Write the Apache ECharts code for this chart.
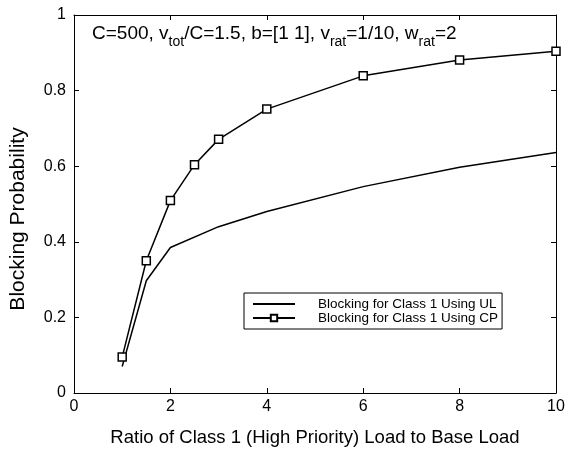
<!DOCTYPE html>
<html>
<head>
<meta charset="utf-8">
<script src="https://cdn.jsdelivr.net/npm/echarts@6/dist/echarts.min.js"></script>
<style>
  html, body { margin: 0; padding: 0; background: #fff; }
  #chart { width: 569px; height: 452px; }
</style>
</head>
<body>
<div id="chart"></div>
<script>
// load ratio (x) and blocking probabilities
const ulX = [1, 1.5, 2, 3, 4, 6, 8, 10];
const ulY = [0.07, 0.297, 0.385, 0.44, 0.48, 0.546, 0.597, 0.636];
const cpX = [1, 1.5, 2, 2.5, 3, 4, 6, 8, 10];
const cpY = [0.095, 0.35, 0.509, 0.604, 0.671, 0.751, 0.839, 0.881, 0.904];
const seriesNames = ['Blocking for Class 1 Using UL', 'Blocking for Class 1 Using CP'];

const font = "'Liberation Sans', Arial, sans-serif";
const chart = echarts.init(document.getElementById('chart'));

const zip = (xs, ys) => xs.map((x, i) => [x, ys[i]]);

const baseX = {
    type: 'value', min: 0, max: 10, interval: 2,
    axisLine: { show: true, onZero: false, lineStyle: { color: '#000', width: 1 } },
    axisTick: { show: true, inside: true, length: 5, lineStyle: { color: '#000' } },
    splitLine: { show: false }
};
const baseY = {
    type: 'value', min: 0, max: 1, interval: 0.2,
    axisLine: { show: true, onZero: false, lineStyle: { color: '#000', width: 1 } },
    axisTick: { show: true, inside: true, length: 5, lineStyle: { color: '#000' } },
    splitLine: { show: false }
};

chart.setOption({
    animation: false,
    backgroundColor: '#fff',
    grid: { left: 73, right: 13, top: 15, bottom: 59 },
    xAxis: [
        Object.assign({}, baseX, {
            position: 'bottom',
            name: 'Ratio of Class 1 (High Priority) Load to Base Load',
            nameLocation: 'middle',
            nameGap: 35,
            nameTextStyle: { color: '#000', fontSize: 18.5, fontFamily: font },
            axisLabel: { color: '#000', fontSize: 16, fontFamily: font, margin: 6 }
        }),
        Object.assign({}, baseX, { position: 'top', axisLabel: { show: false } })
    ],
    yAxis: [
        Object.assign({}, baseY, {
            position: 'left',
            name: 'Blocking Probability',
            nameLocation: 'middle',
            nameGap: 45,
            nameTextStyle: { color: '#000', fontSize: 21, fontFamily: font, padding: [0, 30, 0, 0] },
            axisLabel: {
                color: '#000', fontSize: 16, fontFamily: font, margin: 8,
                formatter: v => String(+v.toFixed(1))
            }
        }),
        Object.assign({}, baseY, { position: 'right', axisLabel: { show: false } })
    ],
    legend: {
        left: 244, top: 293,
        orient: 'vertical',
        backgroundColor: '#fff',
        borderColor: '#000',
        borderWidth: 1,
        borderRadius: 0,
        padding: [4, 4, 4, 8],
        itemGap: 0,
        itemWidth: 42,
        itemHeight: 8,
        textStyle: { color: '#000', fontSize: 13.5, fontFamily: font, lineHeight: 14, padding: [0, 0, 0, 18] },
        data: [
            { name: seriesNames[0], itemStyle: { opacity: 0 } },
            { name: seriesNames[1] }
        ]
    },
    graphic: [{
        type: 'text',
        left: 92, top: 24,
        style: {
            text: '{n|C=500, v}{s|tot}{n|/C=1.5, b=[1 1], v}{s|rat}{n|=1/10, w}{s|rat}{n|=2}',
            rich: {
                n: { fontSize: 19, fontFamily: font, fill: '#000', lineHeight: 19, verticalAlign: 'top' },
                s: { fontSize: 14, fontFamily: font, fill: '#000', lineHeight: 14, verticalAlign: 'top', padding: [11, 0, 0, 0] }
            }
        }
    }],
    series: [
        {
            name: seriesNames[0],
            type: 'line',
            data: zip(ulX, ulY),
            showSymbol: false,
            symbol: 'none',
            lineStyle: { color: '#000', width: 1.5 },
            itemStyle: { color: '#000' }
        },
        {
            name: seriesNames[1],
            type: 'line',
            data: zip(cpX, cpY),
            symbol: 'rect',
            symbolSize: 8,
            lineStyle: { color: '#000', width: 1.5 },
            itemStyle: { color: '#fff', borderColor: '#000', borderWidth: 1.5 }
        }
    ]
});
</script>
</body>
</html>
